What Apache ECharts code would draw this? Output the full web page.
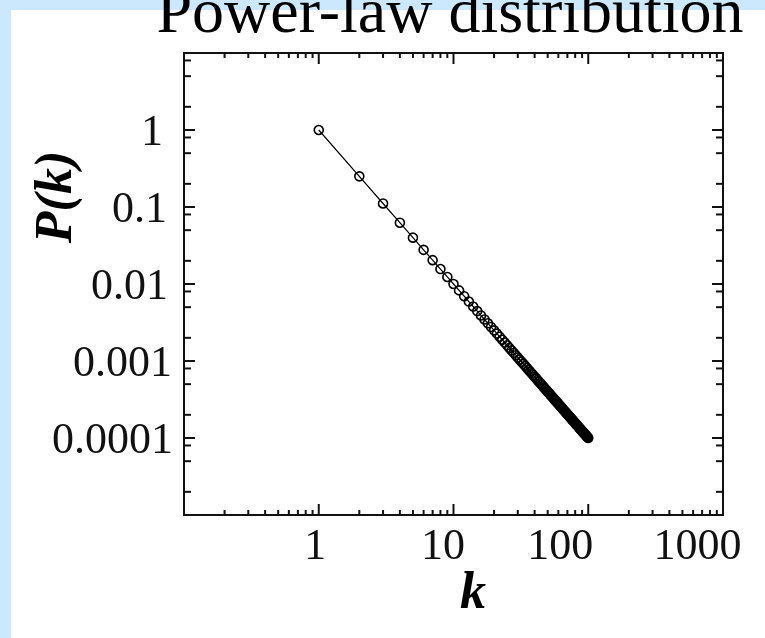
<!DOCTYPE html>
<html><head><meta charset="utf-8">
<script src="https://cdn.jsdelivr.net/npm/echarts@6/dist/echarts.min.js"></script>
<style>html,body{margin:0;padding:0;background:#cce8fc;} #chart{width:765px;height:638px;}</style>
</head><body><div id="chart"></div>
<script>
const titleText = 'Power-law distribution';
const xName = 'k';
const yName = 'P(k)';

const kValues = [1,2,3,4,5,6,7,8,9,10,11,12,13,14,15,16,17,18,19,20,
  21,22,23,24,25,26,27,28,29,30,31,32,33,34,35,36,37,38,39,40,
  41,42,43,44,45,46,47,48,49,50,51,52,53,54,55,56,57,58,59,60,
  61,62,63,64,65,66,67,68,69,70,71,72,73,74,75,76,77,78,79,80,
  81,82,83,84,85,86,87,88,89,90,91,92,93,94,95,96,97,98,99,100];
const pValues = [1,0.25,0.1111,0.0625,0.04,0.02778,0.02041,0.01563,0.01235,0.01,
  0.008264,0.006944,0.005917,0.005102,0.004444,0.003906,0.00346,0.003086,0.00277,0.0025,
  0.002268,0.002066,0.00189,0.001736,0.0016,0.001479,0.001372,0.001276,0.001189,0.001111,
  0.001041,0.0009766,0.0009183,0.000865,0.0008163,0.0007716,0.0007305,0.0006925,0.0006575,0.000625,
  0.0005949,0.0005669,0.0005408,0.0005165,0.0004938,0.0004726,0.0004527,0.000434,0.0004165,0.0004,
  0.0003845,0.0003698,0.000356,0.0003429,0.0003306,0.0003189,0.0003078,0.0002973,0.0002873,0.0002778,
  0.0002687,0.0002601,0.000252,0.0002441,0.0002367,0.0002296,0.0002228,0.0002163,0.00021,0.0002041,
  0.0001984,0.0001929,0.0001877,0.0001826,0.0001778,0.0001731,0.0001687,0.0001644,0.0001602,0.0001563,
  0.0001524,0.0001487,0.0001452,0.0001417,0.0001384,0.0001352,0.0001321,0.0001291,0.0001262,0.0001235,
  0.0001208,0.0001181,0.0001156,0.0001132,0.0001108,0.0001085,0.0001063,0.0001041,0.000102,0.0001];

const xLabelValues = [1, 10, 100, 1000];
const xLabelTexts = ['1', '10', '100', '1000'];
const yLabelValues = [1, 0.1, 0.01, 0.001, 0.0001];
const yLabelTexts = ['1', '0.1', '0.01', '0.001', '0.0001'];

const xMajorTicks = [1, 10, 100];
const xMinorTicks = [0.2,0.3,0.4,0.5,0.6,0.7,0.8,0.9, 2,3,4,5,6,7,8,9,
  20,30,40,50,60,70,80,90, 200,300,400,500,600,700,800,900];
const yMajorTicks = [0.0001, 0.001, 0.01, 0.1, 1];
const yMinorTicks = [0.00002,0.00005,0.00008, 0.0002,0.0005,0.0008, 0.002,0.005,0.008,
  0.02,0.05,0.08, 0.2,0.5,0.8, 2,5,8];

const X_MIN = 0.1, X_MAX = 1000, Y_MIN = 0.00001, Y_MAX = 10;

const INK = '#111';
const serif = '"Liberation Serif", "Times New Roman", serif';

function findIdx(vals, v) {
  return vals.findIndex(t => Math.abs(Math.log10(t) - Math.log10(v)) < 1e-6);
}

const xPadRight = [7, 21, 56, 51];
const yPadRight = [10, 6, 5, 1, 0];
const xRich = {}, yRich = {};
xPadRight.forEach((p, i) => { xRich['x' + i] = {fontFamily: serif, fontSize: 44, color: INK, padding: [0, p, 0, 0]}; });
yPadRight.forEach((p, i) => { yRich['y' + i] = {fontFamily: serif, fontSize: 44, color: INK, padding: [6, p, 0, 0]}; });

function xTickRender(len) {
  return function (params, api) {
    const v = api.value(0);
    const b = api.coord([v, Y_MIN]);
    const t = api.coord([v, Y_MAX]);
    const st = {stroke: INK, lineWidth: 2};
    return {type: 'group', children: [
      {type: 'line', shape: {x1: b[0], y1: b[1], x2: b[0], y2: b[1] - len}, style: st},
      {type: 'line', shape: {x1: t[0], y1: t[1], x2: t[0], y2: t[1] + len}, style: st}
    ]};
  };
}
function yTickRender(len) {
  return function (params, api) {
    const v = api.value(1);
    const l = api.coord([X_MIN, v]);
    const r = api.coord([X_MAX, v]);
    const st = {stroke: INK, lineWidth: 2};
    return {type: 'group', children: [
      {type: 'line', shape: {x1: l[0], y1: l[1], x2: l[0] + len, y2: l[1]}, style: st},
      {type: 'line', shape: {x1: r[0], y1: r[1], x2: r[0] - len, y2: r[1]}, style: st}
    ]};
  };
}

const chart = echarts.init(document.getElementById('chart'), null, {renderer: 'canvas'});
chart.setOption({
  animation: false,
  backgroundColor: '#cce8fc',
  graphic: [
    {type: 'rect', z: -10, silent: true, shape: {x: 11, y: 10, width: 760, height: 640}, style: {fill: '#fff'}},
    {type: 'text', z: 10, x: 450, y: 15, style: {text: titleText, font: '64px ' + serif, fill: '#000', textAlign: 'center', textVerticalAlign: 'middle'}},
    {type: 'text', z: 10, x: 473, y: 595, style: {text: xName, font: 'italic bold 52px ' + serif, fill: '#000', textAlign: 'center', textVerticalAlign: 'middle'}},
    {type: 'text', z: 10, x: 58, y: 197, rotation: Math.PI / 2, style: {text: yName, font: 'italic bold 52px ' + serif, fill: '#000', textAlign: 'center', textVerticalAlign: 'middle'}}
  ],
  grid: {left: 184, top: 53, width: 539, height: 462, show: true, borderColor: INK, borderWidth: 2, backgroundColor: 'transparent'},
  xAxis: {
    type: 'log', logBase: 10, min: X_MIN, max: X_MAX,
    axisLine: {show: false}, axisTick: {show: false}, splitLine: {show: false},
    axisLabel: {
      margin: 10, color: INK, fontFamily: serif, fontSize: 44, rich: xRich,
      showMinLabel: true, showMaxLabel: true, hideOverlap: false,
      formatter: function (v) { const i = findIdx(xLabelValues, v); return i < 0 ? '' : '{x' + i + '|' + xLabelTexts[i] + '}'; }
    }
  },
  yAxis: {
    type: 'log', logBase: 10, min: Y_MIN, max: Y_MAX,
    axisLine: {show: false}, axisTick: {show: false}, splitLine: {show: false},
    axisLabel: {
      margin: 11, color: INK, fontFamily: serif, fontSize: 44, rich: yRich, align: 'right',
      hideOverlap: false,
      formatter: function (v) { const i = findIdx(yLabelValues, v); return i < 0 ? '' : '{y' + i + '|' + yLabelTexts[i] + '}'; }
    }
  },
  series: [
    {type: 'custom', renderItem: xTickRender(11), data: xMajorTicks.map(v => [v, Y_MIN]), silent: true, z: 5},
    {type: 'custom', renderItem: xTickRender(5), data: xMinorTicks.map(v => [v, Y_MIN]), silent: true, z: 5},
    {type: 'custom', renderItem: yTickRender(11), data: yMajorTicks.map(v => [X_MIN, v]), silent: true, z: 5},
    {type: 'custom', renderItem: yTickRender(7), data: yMinorTicks.map(v => [X_MIN, v]), silent: true, z: 5},
    {
      type: 'line', data: kValues.map((k, i) => [k, pValues[i]]),
      symbol: 'circle', symbolSize: 9, showAllSymbol: true,
      lineStyle: {color: '#000', width: 1.2},
      itemStyle: {color: 'rgba(0,0,0,0)', borderColor: '#000', borderWidth: 1.6},
      emphasis: {disabled: true}, silent: true, z: 3
    }
  ]
});
</script></body></html>
